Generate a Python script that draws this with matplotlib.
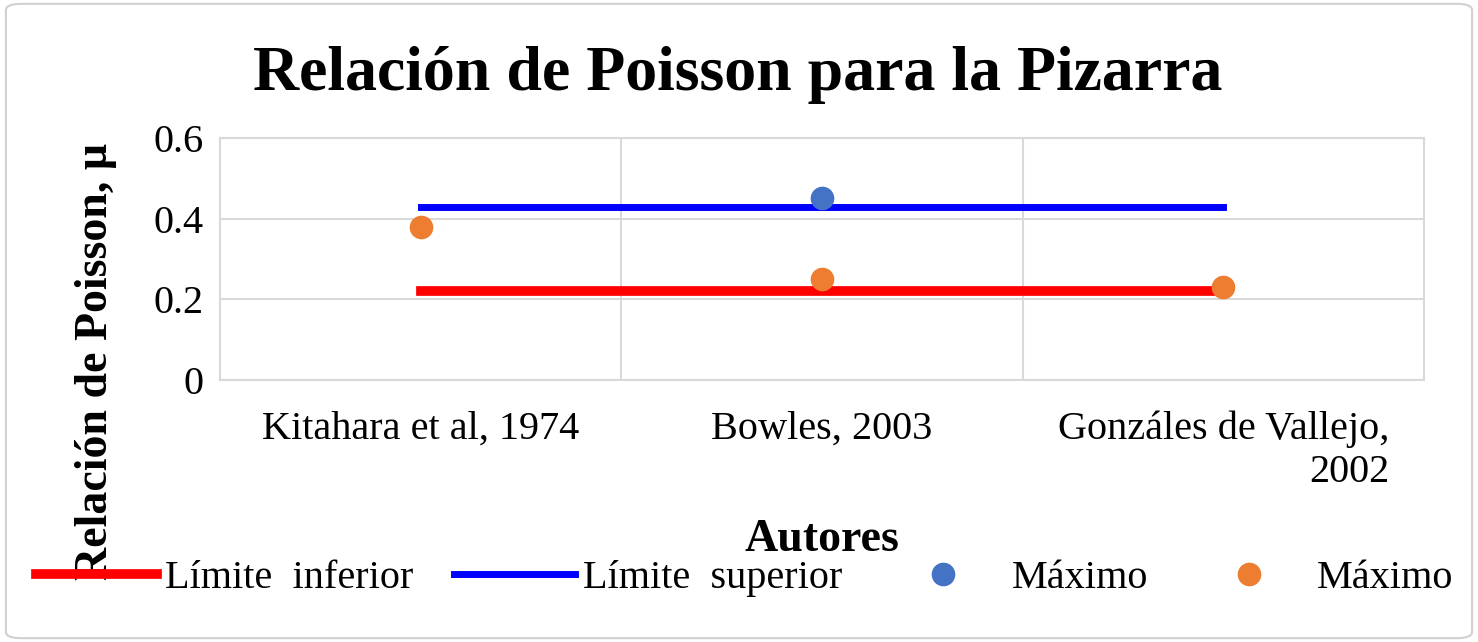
import matplotlib.pyplot as plt
from matplotlib.patches import FancyBboxPatch

plt.rcParams['font.family'] = ['Liberation Serif', 'DejaVu Serif']

categories = ['Kitahara et al, 1974', 'Bowles, 2003', 'Gonzáles de Vallejo,\n2002']
lim_inf = [0.22, 0.22, 0.22]
lim_sup = [0.43, 0.43, 0.43]
max_blue = [None, 0.45, None]
max_orange = [0.38, 0.25, 0.23]

xs = [0.5, 1.5, 2.5]

fig = plt.figure(figsize=(14.78, 6.42), dpi=100)
fig.patches.append(FancyBboxPatch((0.004, 0.006), 0.992, 0.988, boxstyle='round,pad=0,rounding_size=0.01',
                                  transform=fig.transFigure, fill=False, edgecolor='#d0d0d0', linewidth=1.5))
ax = fig.add_axes([220 / 1478, 1 - 380 / 642, (1424 - 220) / 1478, (380 - 138) / 642])

ax.plot(xs, lim_inf, color='#ff0000', linewidth=7, label='Límite  inferior', zorder=2)
ax.plot(xs, lim_sup, color='#0000ff', linewidth=5, label='Límite  superior', zorder=2)
bx = [x for x, v in zip(xs, max_blue) if v is not None]
by = [v for v in max_blue if v is not None]
ax.plot(bx, by, 'o', color='#4472c4', markersize=16, linestyle='none', label='Máximo', zorder=3)
ax.plot(xs, max_orange, 'o', color='#ed7d31', markersize=16, linestyle='none', label='Máximo', zorder=3)

ax.set_xlim(0, 3)
ax.set_ylim(0, 0.6)
ax.set_yticks([0, 0.2, 0.4, 0.6])
ax.set_yticklabels(['0', '0.2', '0.4', '0.6'])
ax.set_xticks(xs)
ax.set_xticklabels(categories, fontsize=29)
ax.set_xticks([1, 2], minor=True)
ax.tick_params(axis='y', labelsize=29, length=0, pad=12)
ax.tick_params(axis='x', which='both', length=0, pad=22)
ax.xaxis.get_majorticklabels()[2].set_multialignment('right')
ax.grid(True, which='minor', axis='x', color='#d9d9d9', linewidth=1.5)
ax.grid(True, which='major', axis='y', color='#d9d9d9', linewidth=1.5)
for s in ax.spines.values():
    s.set_color('#d9d9d9')
    s.set_linewidth(1.5)

fig.text(738 / 1478, 1 - 75 / 642, 'Relación de Poisson para la Pizarra', ha='center', va='center',
         fontsize=46, fontweight='bold')
fig.text(822 / 1478, 1 - 540 / 642, 'Autores', ha='center', va='center', fontsize=33, fontweight='bold')
fig.text(96 / 1478, 1 - 362 / 642, 'Relación de Poisson, μ', rotation=90, ha='center', va='center',
         fontsize=33, fontweight='bold')

fig.legend(loc='center', bbox_to_anchor=(745 / 1478, 1 - 578 / 642), ncol=4, frameon=False,
           fontsize=29, handlelength=3, columnspacing=1.0, handletextpad=0.2)

fig.savefig('out.png', dpi=100)
